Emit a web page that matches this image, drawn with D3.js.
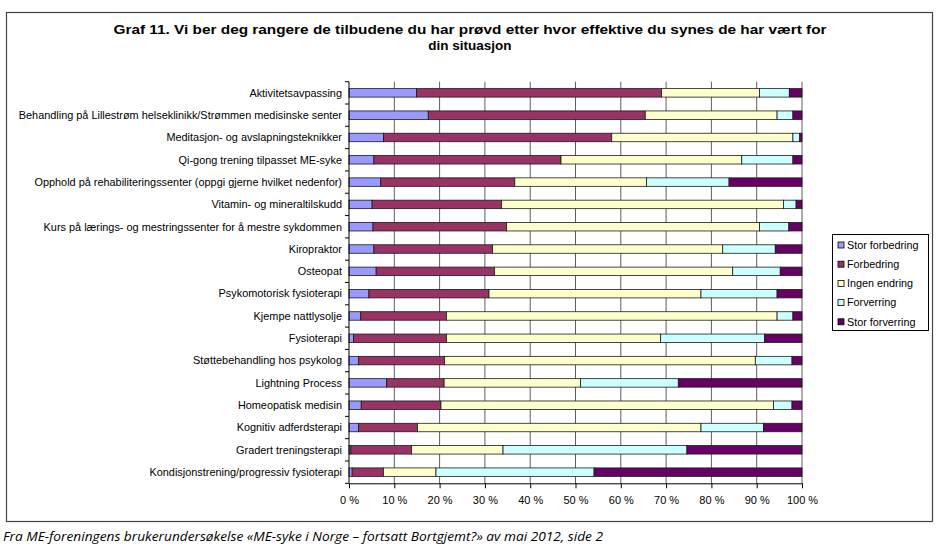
<!DOCTYPE html>
<html>
<head>
<meta charset="utf-8">
<script src="https://cdn.jsdelivr.net/npm/d3@7/dist/d3.min.js"></script>
<style>
  body { margin: 0; background: #fff; }
  svg { display: block; }
</style>
</head>
<body>
<svg id="chart" width="938" height="560"></svg>
<script>
const titleLines = [
  "Graf 11. Vi ber deg rangere de tilbudene du har prøvd etter hvor effektive du synes de har vært for",
  "din situasjon"
];
const footerText = "Fra ME-foreningens brukerundersøkelse «ME-syke i Norge – fortsatt Bortgjemt?» av mai 2012, side 2";

const categories = [
  "Aktivitetsavpassing",
  "Behandling på Lillestrøm helseklinikk/Strømmen medisinske senter",
  "Meditasjon- og avslapningsteknikker",
  "Qi-gong trening tilpasset ME-syke",
  "Opphold på rehabiliteringssenter (oppgi gjerne hvilket nedenfor)",
  "Vitamin- og mineraltilskudd",
  "Kurs på lærings- og mestringssenter for å mestre sykdommen",
  "Kiropraktor",
  "Osteopat",
  "Psykomotorisk fysioterapi",
  "Kjempe nattlysolje",
  "Fysioterapi",
  "Støttebehandling hos psykolog",
  "Lightning Process",
  "Homeopatisk medisin",
  "Kognitiv adferdsterapi",
  "Gradert treningsterapi",
  "Kondisjonstrening/progressiv fysioterapi"
];

const seriesNames = ["Stor forbedring", "Forbedring", "Ingen endring", "Forverring", "Stor forverring"];
const seriesColors = ["#9999FF", "#993366", "#FFFFCC", "#CCFFFF", "#660066"];

const storForbedring = [14.9, 17.5, 7.6, 5.5, 7.0, 5.1, 5.3, 5.5, 6.0, 4.4, 2.6, 1.0, 2.1, 8.3, 2.7, 2.1, 0.4, 0.7];
const forbedring     = [54.1, 47.9, 50.4, 41.3, 29.6, 28.6, 29.5, 26.2, 26.1, 26.5, 18.9, 20.5, 19.0, 12.7, 17.6, 13.0, 13.4, 6.9];
const ingenEndring   = [21.6, 29.1, 40.0, 39.9, 29.1, 62.2, 55.8, 50.8, 52.6, 46.8, 73.0, 47.3, 68.6, 30.1, 73.4, 62.6, 20.2, 11.6];
const forverring     = [6.6, 3.5, 1.5, 11.3, 18.2, 2.8, 6.5, 11.6, 10.5, 16.8, 3.5, 22.9, 8.1, 21.6, 4.1, 13.8, 40.6, 34.9];
const storForverring = [2.8, 2.0, 0.5, 2.0, 16.1, 1.3, 2.9, 5.9, 4.8, 5.5, 2.0, 8.3, 2.2, 27.3, 2.2, 8.5, 25.4, 45.9];

const xTicks = [0, 0.1, 0.2, 0.3, 0.4, 0.5, 0.6, 0.7, 0.8, 0.9, 1.0];

const seriesValues = [storForbedring, forbedring, ingenEndring, forverring, storForverring];
const rows = categories.map((c, i) => {
  const r = { category: c };
  seriesNames.forEach((s, j) => { r[s] = seriesValues[j][i]; });
  return r;
});

const svg = d3.select("#chart");
const font = "'Liberation Sans', Arial, sans-serif";

// outer frame
svg.append("rect")
  .attr("x", 6.5).attr("y", 12.5)
  .attr("width", 926).attr("height", 509)
  .attr("fill", "#fff").attr("stroke", "#444").attr("stroke-width", 1.2);

// title
svg.append("g").selectAll("text").data(titleLines).join("text")
  .attr("x", 470)
  .attr("y", (d, i) => 34 + i * 16)
  .attr("text-anchor", "middle")
  .attr("font-family", font)
  .attr("font-weight", "bold")
  .attr("font-size", "13.5px")
  .attr("fill", "#000")
  .each(function(d, i) {
    if (i === 0) d3.select(this).attr("textLength", 713).attr("lengthAdjust", "spacingAndGlyphs");
  })
  .text(d => d);

const plot = { left: 349, right: 802, top: 81.7, bottom: 483.3 };

const x = d3.scaleLinear().domain([0, 1]).range([plot.left, plot.right]);
const y = d3.scaleBand().domain(categories).range([plot.top, plot.bottom])
  .paddingInner(0.62).paddingOuter(0.31);

// gridlines
svg.append("g").selectAll("line").data(xTicks.slice(1)).join("line")
  .attr("x1", d => x(d)).attr("x2", d => x(d))
  .attr("y1", plot.top).attr("y2", plot.bottom)
  .attr("stroke", "#5e5e5e").attr("stroke-width", 1);

// stacked bars
const stack = d3.stack().keys(seriesNames).offset(d3.stackOffsetExpand);
const stacked = stack(rows);

svg.append("g").selectAll("g").data(stacked).join("g")
  .attr("fill", (d, i) => seriesColors[i])
  .selectAll("rect").data(d => d).join("rect")
  .attr("x", d => x(d[0]))
  .attr("y", d => y(d.data.category))
  .attr("width", d => Math.max(0, x(d[1]) - x(d[0])))
  .attr("height", y.bandwidth())
  .attr("stroke", "#1a1a1a").attr("stroke-width", 0.8);

// x axis
const xAxis = d3.axisBottom(x).tickValues(xTicks)
  .tickFormat(d => Math.round(d * 100) + " %")
  .tickSize(5).tickSizeOuter(0).tickPadding(8);
const gx = svg.append("g").attr("transform", `translate(0,${plot.bottom})`).call(xAxis);
gx.select(".domain").attr("stroke", "#000");
gx.selectAll(".tick line").attr("stroke", "#000");
gx.selectAll("text").attr("font-family", font).attr("font-size", "11px").attr("fill", "#000");

// y axis (category boundary ticks)
const boundaries = d3.range(categories.length + 1).map(i => plot.top + i * y.step());
svg.append("line")
  .attr("x1", plot.left).attr("x2", plot.left)
  .attr("y1", plot.top).attr("y2", plot.bottom)
  .attr("stroke", "#000");
svg.append("g").selectAll("line").data(boundaries).join("line")
  .attr("x1", plot.left - 4).attr("x2", plot.left)
  .attr("y1", d => d).attr("y2", d => d)
  .attr("stroke", "#000");
svg.append("g").selectAll("text").data(categories).join("text")
  .attr("x", 342)
  .attr("y", d => y(d) + y.bandwidth() / 2)
  .attr("dy", "0.35em")
  .attr("text-anchor", "end")
  .attr("font-family", font)
  .attr("font-size", "10.9px")
  .attr("fill", "#000")
  .text(d => d);

// legend
const lg = svg.append("g");
lg.append("rect").attr("x", 832.5).attr("y", 234.5).attr("width", 96).attr("height", 96)
  .attr("fill", "#fff").attr("stroke", "#000").attr("stroke-width", 1);
const items = lg.selectAll("g.item").data(seriesNames).join("g").attr("class", "item")
  .attr("transform", (d, i) => `translate(838, ${245 + i * 19.2})`);
items.append("rect").attr("x", 0).attr("y", -3).attr("width", 6).attr("height", 6)
  .attr("fill", (d, i) => seriesColors[i]).attr("stroke", "#000").attr("stroke-width", 0.8);
items.append("text").attr("x", 9).attr("y", 0).attr("dy", "0.35em")
  .attr("font-family", font).attr("font-size", "10.8px").attr("fill", "#000")
  .text(d => d);

// footer
svg.append("text")
  .attr("x", 3).attr("y", 541)
  .attr("font-family", "'Open Sans', 'Noto Sans', sans-serif")
  .attr("font-style", "italic")
  .attr("font-size", "12.5px")
  .attr("textLength", 600)
  .attr("lengthAdjust", "spacingAndGlyphs")
  .attr("fill", "#000")
  .text(footerText);
</script>
</body>
</html>
